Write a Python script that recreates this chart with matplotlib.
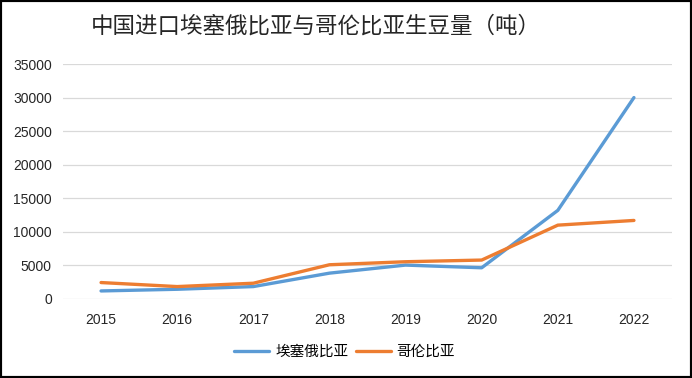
import matplotlib.pyplot as plt
from matplotlib.patches import Rectangle

plt.rcParams['font.family'] = ['Noto Sans CJK SC', 'DejaVu Sans']

years = ['2015', '2016', '2017', '2018', '2019', '2020', '2021', '2022']
ethiopia = [1200, 1450, 1850, 3850, 5050, 4650, 13200, 30000]
colombia = [2450, 1850, 2350, 5100, 5550, 5800, 11000, 11700]
yticks = [0, 5000, 10000, 15000, 20000, 25000, 30000, 35000]

fig = plt.figure(figsize=(6.92, 3.78), dpi=100)
ax = fig.add_axes([63 / 692, 1 - 299 / 378, (672 - 63) / 692, (299 - 64) / 378])

x = list(range(len(years)))
ax.plot(x, ethiopia, color='#5B9BD5', linewidth=2.4, solid_capstyle='round', label='埃塞俄比亚', zorder=3)
ax.plot(x, colombia, color='#ED7D31', linewidth=2.4, solid_capstyle='round', label='哥伦比亚', zorder=3)

ax.set_xlim(-0.5, len(years) - 0.5)
ax.set_ylim(0, 35000)
ax.set_xticks(x)
ax.set_xticklabels(years, family='Liberation Sans', fontsize=10, color='#262626')
ax.set_yticks(yticks)
ax.set_yticklabels([str(v) for v in yticks], family='Liberation Sans', fontsize=10, color='#262626')
ax.tick_params(axis='both', length=0)
ax.tick_params(axis='x', pad=10)
ax.tick_params(axis='y', pad=8)
ax.grid(axis='y', color='#D9D9D9', linewidth=0.9)
ax.set_axisbelow(True)
for s in ax.spines.values():
    s.set_visible(False)

# 标题
fig.text(0.457, 1 - 26 / 378, '中国进口埃塞俄比亚与哥伦比亚生豆量（吨）', ha='center', va='center',
         fontsize=16.2, color='#262626')

fig.legend(loc='center', bbox_to_anchor=(0.498, 1 - 352 / 378), ncol=2, frameon=False,
           fontsize=10.5, handlelength=2.4, columnspacing=0.5, handletextpad=0.4)

# 外框
fig.patches.append(Rectangle((0, 0), 1, 1, transform=fig.transFigure, fill=False,
                             edgecolor='black', linewidth=3, zorder=10))

fig.savefig('out.png', dpi=100)
